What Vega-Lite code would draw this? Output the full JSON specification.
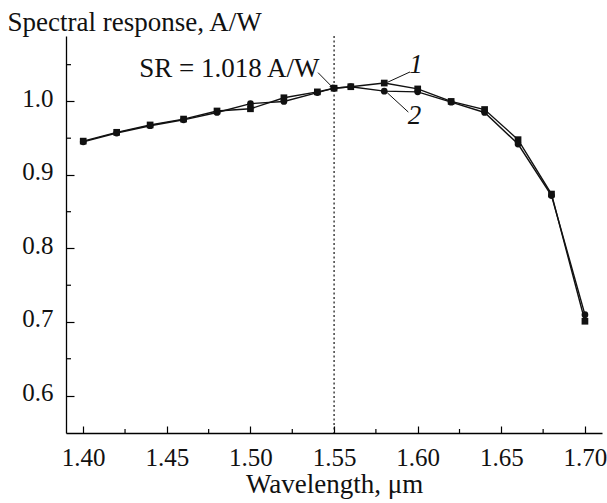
{
  "$schema": "https://vega.github.io/schema/vega-lite/v6.json",
  "width": 536,
  "height": 397,
  "autosize": {"type": "none"},
  "padding": {"left": 66, "top": 36, "right": 5, "bottom": 70},
  "background": "white",
  "config": {
    "font": "Liberation Serif",
    "view": {"stroke": null},
    "axis": {
      "grid": false,
      "domainColor": "#000",
      "tickColor": "#000",
      "labelColor": "#111",
      "titleColor": "#111",
      "labelFont": "Liberation Serif",
      "titleFont": "Liberation Serif",
      "titleFontWeight": "normal",
      "labelFontSize": 25,
      "titleFontSize": 27,
      "labelFlush": false,
      "labelOverlap": false
    }
  },
  "datasets": {
    "series": [
      {"wl": 1.40, "sr": 0.946, "s": "1"},
      {"wl": 1.42, "sr": 0.958, "s": "1"},
      {"wl": 1.44, "sr": 0.968, "s": "1"},
      {"wl": 1.46, "sr": 0.976, "s": "1"},
      {"wl": 1.48, "sr": 0.987, "s": "1"},
      {"wl": 1.50, "sr": 0.990, "s": "1"},
      {"wl": 1.52, "sr": 1.005, "s": "1"},
      {"wl": 1.54, "sr": 1.013, "s": "1"},
      {"wl": 1.55, "sr": 1.018, "s": "1"},
      {"wl": 1.56, "sr": 1.020, "s": "1"},
      {"wl": 1.58, "sr": 1.025, "s": "1"},
      {"wl": 1.60, "sr": 1.017, "s": "1"},
      {"wl": 1.62, "sr": 1.000, "s": "1"},
      {"wl": 1.64, "sr": 0.989, "s": "1"},
      {"wl": 1.66, "sr": 0.948, "s": "1"},
      {"wl": 1.68, "sr": 0.874, "s": "1"},
      {"wl": 1.70, "sr": 0.701, "s": "1"},
      {"wl": 1.40, "sr": 0.945, "s": "2"},
      {"wl": 1.42, "sr": 0.957, "s": "2"},
      {"wl": 1.44, "sr": 0.967, "s": "2"},
      {"wl": 1.46, "sr": 0.975, "s": "2"},
      {"wl": 1.48, "sr": 0.985, "s": "2"},
      {"wl": 1.50, "sr": 0.997, "s": "2"},
      {"wl": 1.52, "sr": 1.000, "s": "2"},
      {"wl": 1.54, "sr": 1.012, "s": "2"},
      {"wl": 1.55, "sr": 1.018, "s": "2"},
      {"wl": 1.56, "sr": 1.020, "s": "2"},
      {"wl": 1.58, "sr": 1.014, "s": "2"},
      {"wl": 1.60, "sr": 1.013, "s": "2"},
      {"wl": 1.62, "sr": 0.999, "s": "2"},
      {"wl": 1.64, "sr": 0.985, "s": "2"},
      {"wl": 1.66, "sr": 0.942, "s": "2"},
      {"wl": 1.68, "sr": 0.872, "s": "2"},
      {"wl": 1.70, "sr": 0.710, "s": "2"}
    ],
    "leaders": [
      {"x": 1.5954, "y": 1.0401, "x2": 1.5820, "y2": 1.0261},
      {"x": 1.5944, "y": 0.9855, "x2": 1.5818, "y2": 1.0118},
      {"x": 1.5404, "y": 1.0392, "x2": 1.5485, "y2": 1.0205}
    ],
    "srlabel": [{"label": "SR = 1.018 A/W", "x": 1.4874, "y": 1.0338}],
    "numbers": [
      {"label": "1", "x": 1.5990, "y": 1.0390},
      {"label": "2", "x": 1.5981, "y": 0.9689}
    ],
    "arrowhead": [{"x": 1.5487, "y": 1.0202}],
    "marker": [{"wl": 1.55}],
    "xminor": [{"v": 1.425}, {"v": 1.475}, {"v": 1.525}, {"v": 1.575}, {"v": 1.625}, {"v": 1.675}],
    "yminor": [{"v": 0.65}, {"v": 0.75}, {"v": 0.85}, {"v": 0.95}, {"v": 1.05}]
  },
  "layer": [
    {
      "data": {"name": "series"},
      "mark": {"type": "line", "color": "#111", "strokeWidth": 1.4},
      "encoding": {
        "x": {
          "field": "wl", "type": "quantitative",
          "scale": {"domain": [1.3897, 1.7102], "nice": false, "zero": false},
          "axis": {
            "orient": "bottom",
            "title": "Wavelength, μm",
            "values": [1.40, 1.45, 1.50, 1.55, 1.60, 1.65, 1.70],
            "format": ".2f",
            "tickSize": -7,
            "tickWidth": 1.2,
            "labelPadding": 39,
            "labelBaseline": "alphabetic",
            "titleY": 59,
            "titleBaseline": "alphabetic",
            "domainWidth": 1.3
          }
        },
        "y": {
          "field": "sr", "type": "quantitative",
          "scale": {"domain": [0.549, 1.089], "nice": false, "zero": false},
          "axis": {
            "orient": "left",
            "title": "Spectral response, A/W",
            "titleAngle": 0,
            "titleAlign": "left",
            "titleBaseline": "alphabetic",
            "titleX": -59,
            "titleY": -6,
            "values": [0.6, 0.7, 0.8, 0.9, 1.0],
            "format": ".1f",
            "tickSize": -8,
            "tickWidth": 1.2,
            "labelPadding": 21,
            "labelBaseline": "alphabetic",
            "labelOffset": 5,
            "domainWidth": 1.3
          }
        },
        "detail": {"field": "s"}
      }
    },
    {
      "data": {"name": "series"},
      "mark": {"type": "point", "filled": true, "color": "#111", "opacity": 1, "size": 45},
      "encoding": {
        "x": {"field": "wl", "type": "quantitative"},
        "y": {"field": "sr", "type": "quantitative"},
        "shape": {
          "field": "s", "type": "nominal",
          "scale": {"domain": ["1", "2"], "range": ["square", "circle"]},
          "legend": null
        }
      }
    },
    {
      "data": {"name": "xminor"},
      "mark": {"type": "tick", "orient": "vertical", "color": "#000", "size": 4, "thickness": 1.2, "opacity": 1, "yOffset": -2},
      "encoding": {
        "x": {"field": "v", "type": "quantitative"},
        "y": {"datum": 0.549, "type": "quantitative"}
      }
    },
    {
      "data": {"name": "yminor"},
      "mark": {"type": "tick", "orient": "horizontal", "color": "#000", "size": 5, "thickness": 1.2, "opacity": 1, "xOffset": 2.5},
      "encoding": {
        "y": {"field": "v", "type": "quantitative"},
        "x": {"datum": 1.3897, "type": "quantitative"}
      }
    },
    {
      "data": {"name": "leaders"},
      "mark": {"type": "rule", "color": "#111", "strokeWidth": 1},
      "encoding": {
        "x": {"field": "x", "type": "quantitative"},
        "y": {"field": "y", "type": "quantitative"},
        "x2": {"field": "x2"},
        "y2": {"field": "y2"}
      }
    },
    {
      "data": {"name": "marker"},
      "mark": {"type": "rule", "color": "#111", "strokeWidth": 1.2, "strokeDash": [2, 2.5]},
      "encoding": {
        "x": {"field": "wl", "type": "quantitative"}
      }
    },
    {
      "data": {"name": "srlabel"},
      "mark": {"type": "text", "font": "Liberation Serif", "fontSize": 27, "color": "#111", "align": "center", "baseline": "alphabetic"},
      "encoding": {
        "x": {"field": "x", "type": "quantitative"},
        "y": {"field": "y", "type": "quantitative"},
        "text": {"field": "label"}
      }
    },
    {
      "data": {"name": "numbers"},
      "mark": {"type": "text", "font": "Liberation Serif", "fontSize": 27, "fontStyle": "italic", "color": "#111", "align": "center", "baseline": "alphabetic"},
      "encoding": {
        "x": {"field": "x", "type": "quantitative"},
        "y": {"field": "y", "type": "quantitative"},
        "text": {"field": "label"}
      }
    },
    {
      "data": {"name": "arrowhead"},
      "mark": {"type": "point", "shape": "triangle", "filled": true, "color": "#111", "opacity": 1, "size": 22, "angle": 148},
      "encoding": {
        "x": {"field": "x", "type": "quantitative"},
        "y": {"field": "y", "type": "quantitative"}
      }
    }
  ]
}
